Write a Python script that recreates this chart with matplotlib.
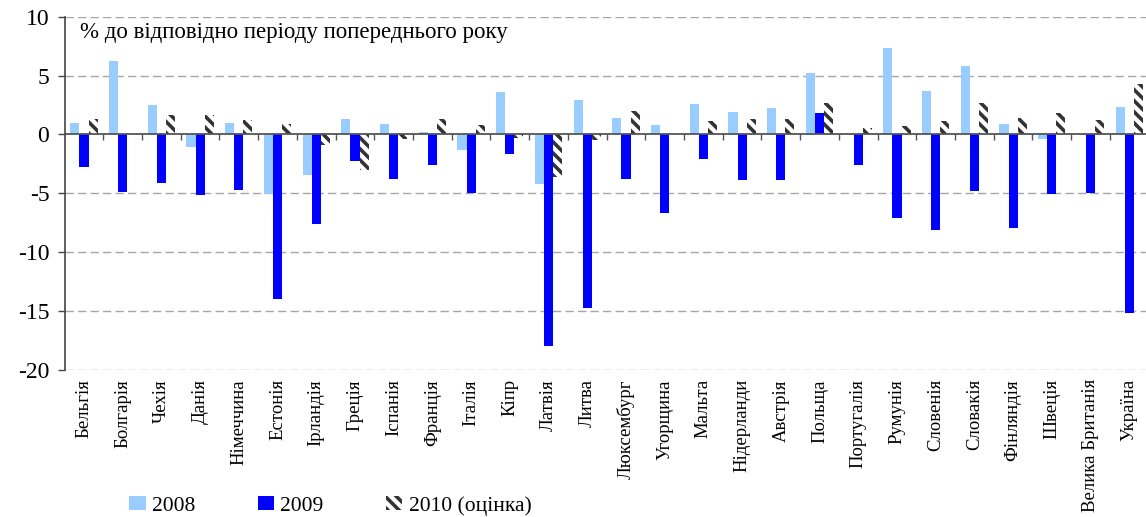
import numpy as np
import matplotlib
matplotlib.use("Agg")
import matplotlib.pyplot as plt
from matplotlib.patches import Patch

plt.rcParams["font.family"] = ["Liberation Serif", "DejaVu Serif"]
plt.rcParams["axes.unicode_minus"] = False
plt.rcParams["hatch.linewidth"] = 2.6
plt.rcParams["hatch.color"] = "#333333"

# Data
countries = ["Бельгія", "Болгарія", "Чехія", "Данія", "Німеччина", "Естонія",
             "Ірландія", "Греція", "Іспанія", "Франція", "Італія", "Кіпр",
             "Латвія", "Литва", "Люксембург", "Угорщина", "Мальта",
             "Нідерланди", "Австрія", "Польща", "Португалія", "Румунія",
             "Словенія", "Словакія", "Фінляндія", "Швеція",
             "Велика Британія", "Україна"]
g2008 = [1.0, 6.2, 2.5, -1.1, 1.0, -5.1, -3.5, 1.3, 0.9, 0.2, -1.3, 3.6, -4.2,
         2.9, 1.4, 0.8, 2.6, 1.9, 2.2, 5.2, 0.0, 7.3, 3.7, 5.8, 0.9, -0.4,
         -0.1, 2.3]
g2009 = [-2.8, -4.9, -4.1, -5.2, -4.7, -14.0, -7.6, -2.3, -3.8, -2.6, -5.0,
         -1.7, -18.0, -14.8, -3.8, -6.7, -2.1, -3.9, -3.9, 1.8, -2.6, -7.1,
         -8.1, -4.8, -8.0, -5.1, -5.0, -15.2]
g2010 = [1.3, 0.0, 1.6, 1.6, 1.2, 0.9, -0.9, -3.0, -0.4, 1.3, 0.8, -0.3, -3.6,
         -0.5, 2.0, 0.0, 1.1, 1.3, 1.3, 2.7, 0.5, 0.7, 1.1, 2.7, 1.4, 1.8,
         1.2, 4.3]
series_labels = ["2008", "2009", "2010 (оцінка)"]
title_text = "% до відповідно періоду попереднього року"

c2008 = "#99CCFF"
c2009 = "#0000FF"
hatch = "\\\\\\"

fig = plt.figure(figsize=(11.46, 5.17), dpi=100)
ax = fig.add_axes([64.6 / 1146, 1 - 369.5 / 517, 1084 / 1146, 352.8 / 517])

x = np.arange(len(countries))
w = 0.235
ax.bar(x - w, g2008, w, color=c2008, zorder=2)
ax.bar(x, g2009, w, color=c2009, zorder=2)
ax.bar(x + w, g2010, w, facecolor="white", edgecolor="#333333", linewidth=0,
       hatch=hatch, zorder=2)

ax.set_ylim(-20, 10)
ax.set_xlim(-0.5, len(countries) - 0.5)
ax.set_yticks(np.arange(-20, 11, 5))
for v in [-20, -15, -10, -5, 5, 10]:
    ax.axhline(v, color="#A6A6A6", lw=1, dashes=(6, 3), zorder=1)
ax.axhline(0, color="#555555", lw=1.3, zorder=3)
# category separators on the zero line
ax.vlines(x[1:] - 0.5, -0.5, 0, color="#555555", lw=1, zorder=3)

for s in ["top", "right", "bottom"]:
    ax.spines[s].set_visible(False)
ax.spines["left"].set_color("#444444")
ax.spines["left"].set_linewidth(1.2)
ax.tick_params(axis="y", length=5, width=1, color="#444444", pad=6,
               labelsize=17)
ax.set_xticks(x)
ax.set_xticklabels(countries, rotation=90, fontsize=13.5)
ax.tick_params(axis="x", length=0, pad=7)

ax.text(0.014, 0.985, title_text, transform=ax.transAxes, ha="left",
        va="top", fontsize=16.5)

handles = [Patch(facecolor=c2008, edgecolor="none"),
           Patch(facecolor=c2009, edgecolor="none"),
           Patch(facecolor="white", edgecolor="#333333", linewidth=0,
                 hatch=hatch)]
fig.legend(handles, series_labels, loc="lower left",
           bbox_to_anchor=(110 / 1146, -0.035), ncol=3, frameon=False,
           fontsize=15.5, handlelength=0.75, handleheight=0.6,
           handletextpad=0.3, columnspacing=2.9)

fig.savefig("out.png", dpi=100)
